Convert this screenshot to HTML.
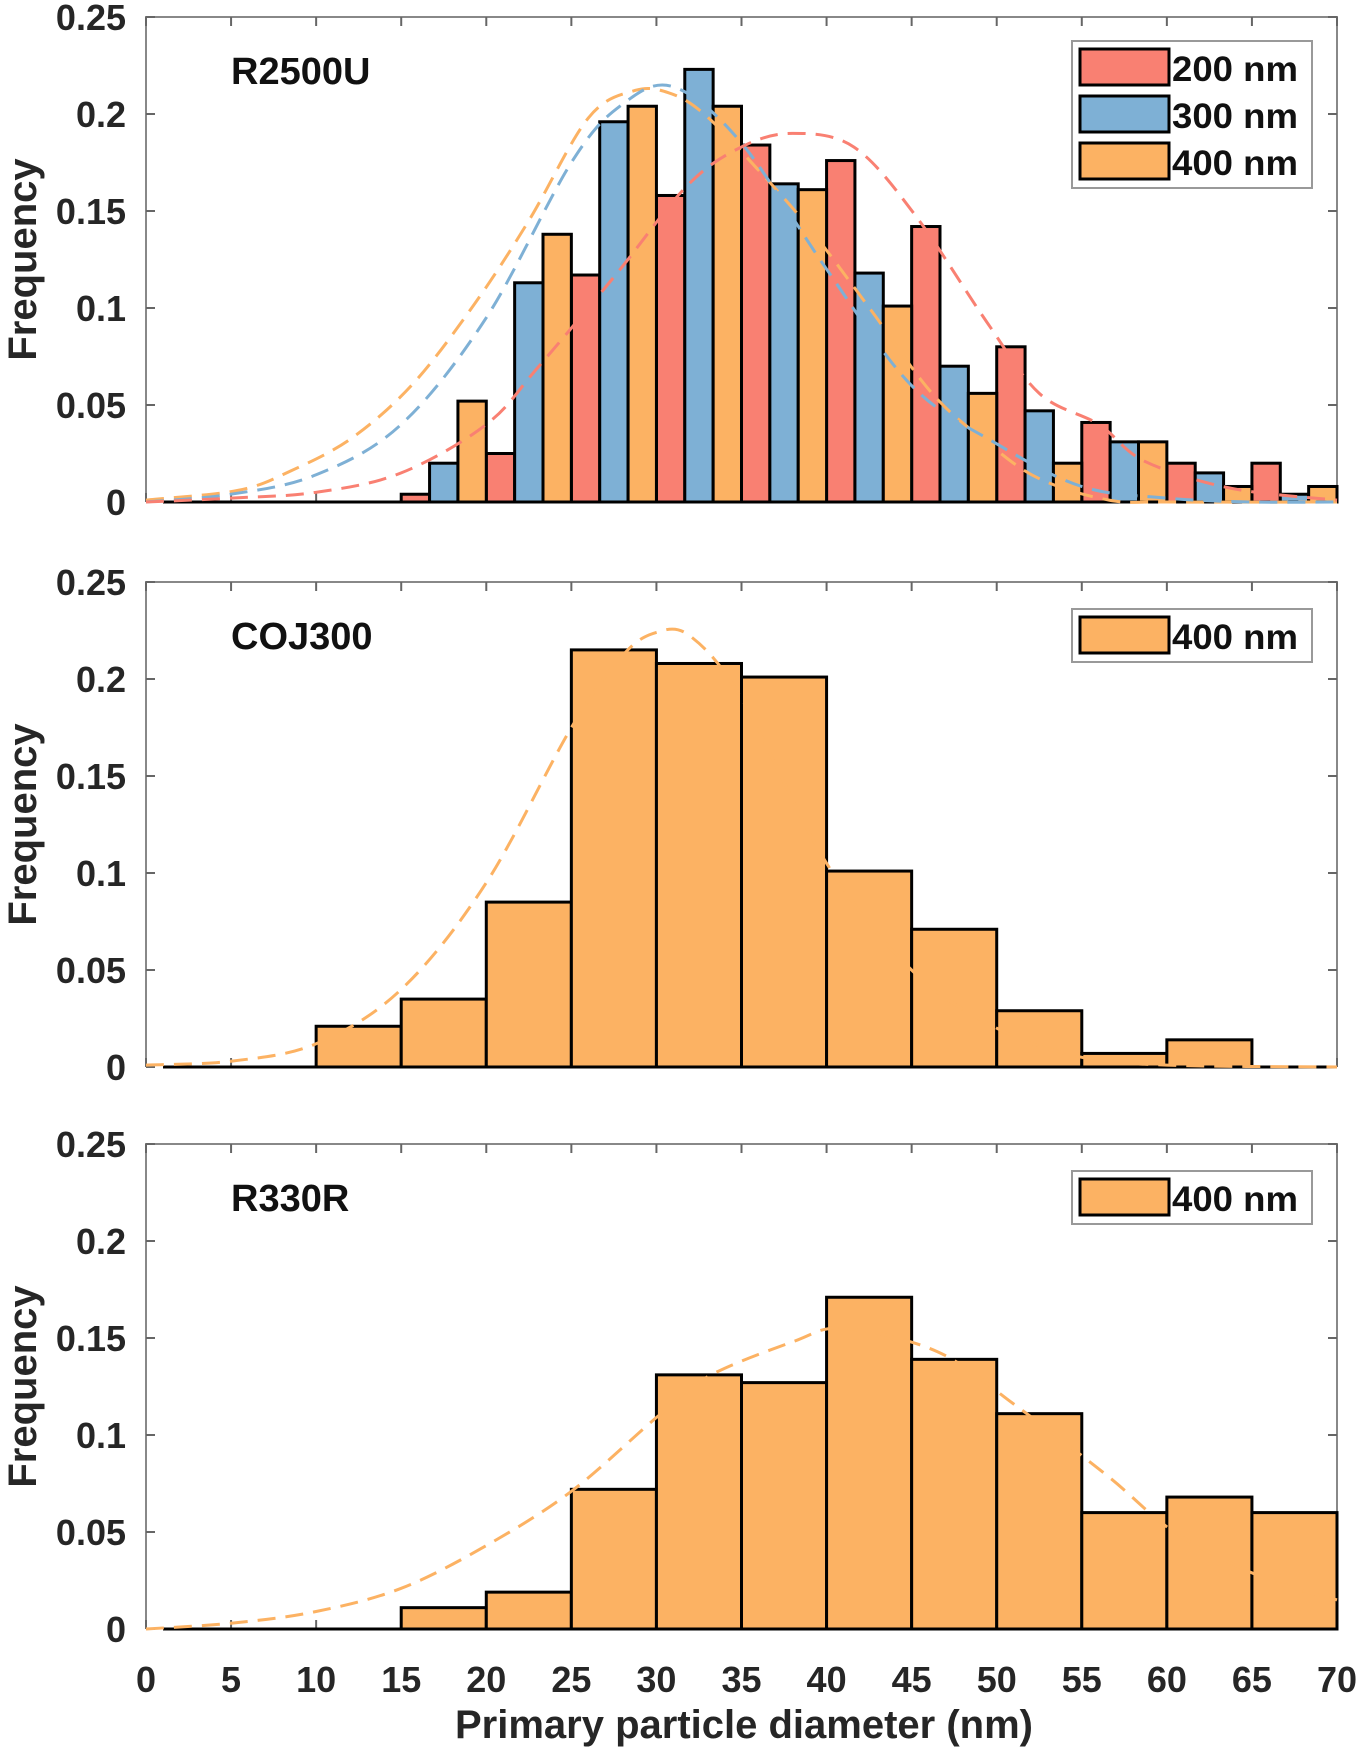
<!DOCTYPE html>
<html><head><meta charset="utf-8"><style>
html,body{margin:0;padding:0;background:#fff;}
svg{display:block;font-family:"Liberation Sans",Arial,sans-serif;font-weight:bold;}
</style></head><body>
<svg id="chart" width="1360" height="1752" viewBox="0 0 1360 1752" xmlns="http://www.w3.org/2000/svg"></svg>
<script>
// ---------- data ----------
const xTicks = [0,5,10,15,20,25,30,35,40,45,50,55,60,65,70];
const yTicks = [0,0.05,0.1,0.15,0.2,0.25];
const yTickLabels = ["0","0.05","0.1","0.15","0.2","0.25"];
const binStarts = [0,5,10,15,20,25,30,35,40,45,50,55,60,65];
// Panel 1 (R2500U) grouped values per 5 nm bin
const r2500u200 = [0,0,0,0.004,0.025,0.117,0.158,0.184,0.176,0.142,0.080,0.041,0.020,0.020];
const r2500u300 = [0,0,0,0.020,0.113,0.196,0.223,0.164,0.118,0.070,0.047,0.031,0.015,0.004];
const r2500u400 = [0,0,0,0.052,0.138,0.204,0.204,0.161,0.101,0.056,0.020,0.031,0.008,0.008];
const fit200X = [0,5,10,15,20,23,27.6,31.8,35,38,41.6,45.2,49.4,52.5,56,58.7,63.8,70];
const fit200Y = [0,0.002,0.005,0.015,0.040,0.069,0.117,0.163,0.183,0.190,0.183,0.148,0.093,0.056,0.040,0.021,0.007,0.001];
const fit300X = [0,5,10,15,20,25,28,31,35,40,45,50,55,60,65,70];
const fit300Y = [0,0.004,0.014,0.040,0.095,0.175,0.205,0.214,0.185,0.120,0.060,0.030,0.008,0.002,0,0];
const fit400X = [0,5.4,8.5,12.1,15.7,19.3,22.5,26,28.7,30.7,32.8,35.9,39,42.6,46.2,49.4,52.5,56.6,60,70];
const fit400Y = [0.001,0.006,0.016,0.033,0.061,0.102,0.145,0.198,0.212,0.211,0.200,0.172,0.141,0.099,0.056,0.031,0.012,0.001,0,0];
// Panel 2 (COJ300)
const coj400 = [0,0,0.021,0.035,0.085,0.215,0.208,0.201,0.101,0.071,0.029,0.007,0.014,0];
const cojFitX = [0,5,10,15,20,25,28,30,32,35,40,45,50,55,60,70];
const cojFitY = [0.001,0.003,0.012,0.040,0.095,0.175,0.212,0.224,0.222,0.190,0.105,0.050,0.020,0.005,0.001,0];
// Panel 3 (R330R)
const r330400 = [0,0,0,0.011,0.019,0.072,0.131,0.127,0.171,0.139,0.111,0.060,0.068,0.060];
const r330FitX = [0,5,10,15,20,25,30,33,38,41,46.5,51,56.5,60.6,65.8,70];
const r330FitY = [0,0.003,0.009,0.021,0.043,0.071,0.109,0.130,0.148,0.155,0.143,0.116,0.079,0.049,0.026,0.015];

const C200 = "#f98072", C300 = "#7eb0d5", C400 = "#fcb263";
const NS = "http://www.w3.org/2000/svg";
const svg = document.getElementById('chart');
function mk(tag, attrs, parent){ const e=document.createElementNS(NS,tag); for(const k in attrs) e.setAttribute(k,attrs[k]); (parent||svg).appendChild(e); return e; }

const X0 = 146, X1 = 1337, XMAX = 70, YMAX = 0.25, PH = 485;
function xs(v){ return X0 + (v/XMAX)*(X1-X0); }

function smoothPath(pts){
  let d = 'M'+pts[0][0].toFixed(1)+','+pts[0][1].toFixed(1);
  for(let i=0;i<pts.length-1;i++){
    const p0=pts[Math.max(0,i-1)], p1=pts[i], p2=pts[i+1], p3=pts[Math.min(pts.length-1,i+2)];
    const c1x=p1[0]+(p2[0]-p0[0])/6, c1y=p1[1]+(p2[1]-p0[1])/6;
    const c2x=p2[0]-(p3[0]-p1[0])/6, c2y=p2[1]-(p3[1]-p1[1])/6;
    d += ` C${c1x.toFixed(1)},${c1y.toFixed(1)} ${c2x.toFixed(1)},${c2y.toFixed(1)} ${p2[0].toFixed(1)},${p2[1].toFixed(1)}`;
  }
  return d;
}

function panel(top, name, title, seriesList, fits, legendY){
  const g = mk('g',{});
  
  
  const ys = v => top + PH - (v/YMAX)*PH;
  const base = ys(0);
  const ax = mk('path',{d:`M${X0},${base} V${top} H${X1} V${base}`,fill:'none',stroke:'#888',"stroke-width":2},g);
  
  
  yTicks.forEach((t,i)=>{
    const y = ys(t);
    mk('line',{x1:X0,x2:X0+9,y1:y,y2:y,stroke:'#666',"stroke-width":2},g);
    mk('line',{x1:X1-9,x2:X1,y1:y,y2:y,stroke:'#666',"stroke-width":2},g);
    const tl = mk('text',{x:X0-20,y:y+13,"text-anchor":"end","font-size":36,fill:'#262626'},g);
    tl.textContent = yTickLabels[i];
    
    
  });
  xTicks.forEach(t=>{
    const x = xs(t);
    mk('line',{x1:x,x2:x,y1:top,y2:top+9,stroke:'#666',"stroke-width":2},g);
    mk('line',{x1:x,x2:x,y1:base,y2:base-9,stroke:'#666',"stroke-width":2},g);
  });
  mk('line',{x1:xs(1),x2:X1,y1:base,y2:base,stroke:'#000',"stroke-width":3},g);
  const n = seriesList.length;
  const bw = 5/n;
  seriesList.forEach((s,si)=>{
    s.values.forEach((v,bi)=>{
      if(v<=0) return;
      const xa = xs(binStarts[bi]+si*bw), xb = xs(binStarts[bi]+(si+1)*bw);
      const r = mk('rect',{x:xa,y:ys(v),width:xb-xa,height:base-ys(v),fill:s.color,stroke:'#000',"stroke-width":3},g);
      
      
    });
  });
  fits.forEach(f=>{
    const pts = f.x.map((xv,i)=>[xs(xv), ys(f.y[i])]);
    const p = mk('path',{d:smoothPath(pts),fill:'none',stroke:f.color,"stroke-width":3,"stroke-dasharray":"18,10"},g);
    
    
  });
  const tt = mk('text',{x:231,y:top+67,"font-size":38,fill:'#111'},g);
  tt.textContent = title;
  
  
  const cy = top+PH/2;
  const yl = mk('text',{x:0,y:0,"font-size":40,fill:'#262626',"text-anchor":"middle",transform:`translate(36,${cy}) rotate(-90)`},g);
  yl.textContent = 'Frequency';
  
  
  const lx = 1072, rowH = 47;
  const lh = seriesList.length*rowH + 6;
  const lg = mk('g',{},g);
  
  
  mk('rect',{x:lx,y:legendY,width:240,height:lh,fill:'#fff',stroke:'#999',"stroke-width":2},lg);
  seriesList.forEach((s,i)=>{
    const ry = legendY+6+i*rowH;
    const e = mk('g',{},lg);
    
    
    mk('rect',{x:lx+8,y:ry+2,width:89,height:36,fill:s.color,stroke:'#000',"stroke-width":3},e);
    const t = mk('text',{x:lx+100,y:ry+34,"font-size":35,fill:'#111',textLength:126,lengthAdjust:'spacingAndGlyphs'},e);
    t.textContent = s.label;
  });
}

panel(17,'panel-r2500u','R2500U',
  [{values:r2500u200,color:C200,label:'200 nm'},{values:r2500u300,color:C300,label:'300 nm'},{values:r2500u400,color:C400,label:'400 nm'}],
  [{x:fit400X,y:fit400Y,color:C400,label:'400'},{x:fit300X,y:fit300Y,color:C300,label:'300'},{x:fit200X,y:fit200Y,color:C200,label:'200'}],
  41);
panel(582,'panel-coj300','COJ300',
  [{values:coj400,color:C400,label:'400 nm'}],
  [{x:cojFitX,y:cojFitY,color:C400,label:'400'}], 609);
panel(1144,'panel-r330r','R330R',
  [{values:r330400,color:C400,label:'400 nm'}],
  [{x:r330FitX,y:r330FitY,color:C400,label:'400'}], 1171);

xTicks.forEach(t=>{
  const tl = mk('text',{x:xs(t),y:1692,"text-anchor":"middle","font-size":36,fill:'#262626'});
  tl.textContent = String(t);
  
  
});
const xl = mk('text',{x:744,y:1738,"text-anchor":"middle","font-size":40,fill:'#262626'});
xl.textContent = 'Primary particle diameter (nm)';


</script>
</body></html>
